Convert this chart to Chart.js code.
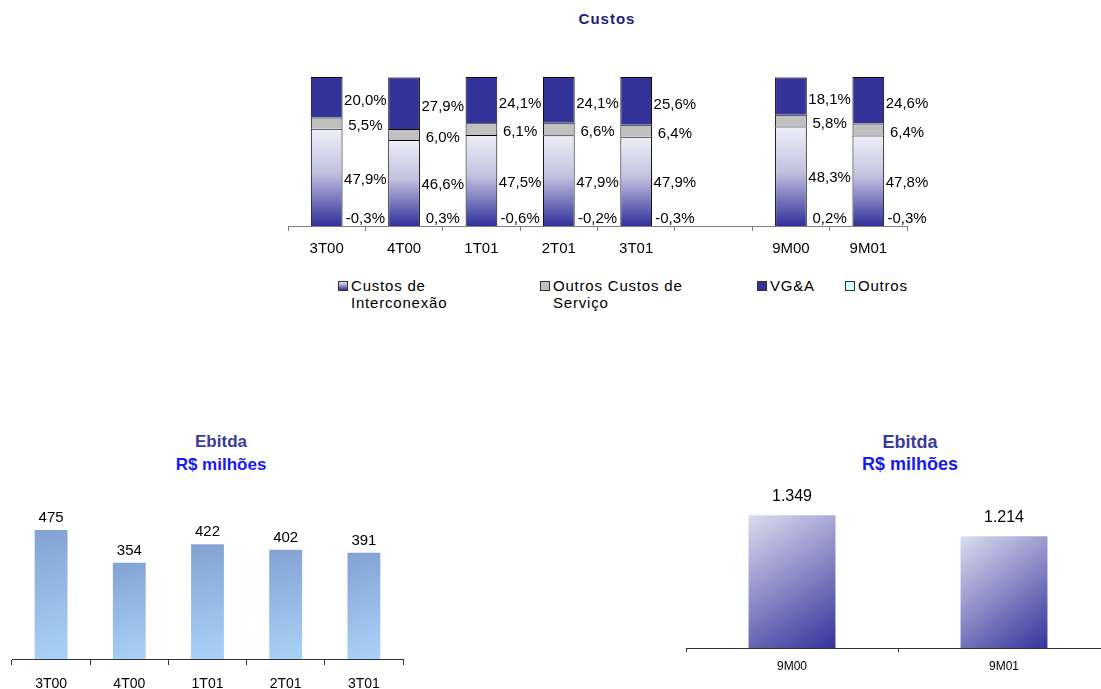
<!DOCTYPE html>
<html lang="pt-BR">
<head>
<meta charset="utf-8">
<title>Custos e Ebitda</title>
<script src="https://cdn.jsdelivr.net/npm/chart.js@4.4.1/dist/chart.umd.min.js"></script>
<style>
  body { margin: 0; width: 1101px; height: 689px; position: relative; overflow: hidden; background: #fff; font-family: "Liberation Sans", Arial, sans-serif; }
  .caixa { position: absolute; }
  .titulo { position: absolute; font-weight: bold; text-align: center; white-space: nowrap; transform: translateX(-50%); }
  .item-legenda { position: absolute; font-size: 15px; line-height: 17px; letter-spacing: 0.8px; color: #000; }
  .item-legenda .cor { position: absolute; left: -13px; top: 4px; width: 8px; height: 8px; border: 1px solid #333; }
</style>
</head>
<body>

<div class="titulo" style="left:607px; top:10px; font-size:15px; line-height:18px; color:#1c1c80; letter-spacing:1px;">Custos</div>
<div class="caixa" style="left:0; top:0; width:1101px; height:262px;"><canvas id="graficoCustos"></canvas></div>
<div id="legendaCustos"></div>

<div class="titulo" style="left:221px; top:430px; font-size:17px; line-height:23px; color:#3b3b98;">Ebitda<br><span style="color:#1a1af0">R$ milhões</span></div>
<div class="caixa" style="left:0; top:480px; width:420px; height:209px;"><canvas id="graficoEbitdaTrimestre"></canvas></div>

<div class="titulo" style="left:910px; top:431px; font-size:18px; line-height:22px; color:#3b3b98;">Ebitda<br><span style="color:#1a1af0">R$ milhões</span></div>
<div class="caixa" style="left:680px; top:470px; width:430px; height:219px;"><canvas id="graficoEbitdaAcumulado"></canvas></div>

<script>
// === DADOS ===
const categoriasCustos = ['3T00', '4T00', '1T01', '2T01', '3T01', '', '9M00', '9M01'];
const custosInterconexao = [47.9, 46.6, 47.5, 47.9, 47.9, null, 48.3, 47.8];
const outrosCustosServico = [5.5, 6.0, 6.1, 6.6, 6.4, null, 5.8, 6.4];
const vgea = [20.0, 27.9, 24.1, 24.1, 25.6, null, 18.1, 24.6];
const outros = [-0.3, 0.3, -0.6, -0.2, -0.3, null, 0.2, -0.3];

const categoriasEbitda = ['3T00', '4T00', '1T01', '2T01', '3T01'];
const ebitdaTrimestral = [475, 354, 422, 402, 391];

const categoriasEbitdaAcumulado = ['9M00', '9M01'];
const ebitdaAcumulado = [1349, 1214];

const seriesCustos = [
  { nome: 'Custos de Interconexão', valores: custosInterconexao },
  { nome: 'Outros Custos de Serviço', valores: outrosCustosServico },
  { nome: 'VG&A', valores: vgea },
  { nome: 'Outros', valores: outros }
];

const FONTE = '"Liberation Sans", Arial, sans-serif';

document.addEventListener('DOMContentLoaded', () => {
  gerarGraficoCustos();
  montarLegendaCustos();
  gerarGraficoEbitdaTrimestre();
  gerarGraficoEbitdaAcumulado();
});

function formatarPct(v) {
  return v.toFixed(1).replace('.', ',') + '%';
}

function formatarMilhar(v) {
  return String(v).replace(/\B(?=(\d{3})+(?!\d))/g, '.');
}

// colunas 100% empilhadas: cada valor vira a sua fatia da soma positiva da coluna
function totalPositivo(i) {
  return seriesCustos.reduce((acc, s) => acc + (s.valores[i] > 0 ? s.valores[i] : 0), 0);
}

function paraCemPorCento(valores) {
  return valores.map((v, i) => v === null ? null : v / totalPositivo(i) * 100);
}

function gradienteInterconexao(contexto) {
  const grafico = contexto.chart;
  if (!grafico.chartArea || contexto.raw === null || contexto.raw === undefined) return '#9999cc';
  const y = grafico.scales.y;
  const topo = y.getPixelForValue(contexto.raw);
  const base = y.getPixelForValue(0);
  const g = grafico.ctx.createLinearGradient(0, topo, 0, base);
  g.addColorStop(0, '#eeeef8');
  g.addColorStop(0.45, '#c2c2e0');
  g.addColorStop(1, '#30309a');
  return g;
}

function gradienteDiagonal(corInicio, corFim, larguraBarra) {
  return (contexto) => {
    const grafico = contexto.chart;
    if (!grafico.chartArea || contexto.raw === null || contexto.raw === undefined) return corFim;
    const x = grafico.scales.x;
    const y = grafico.scales.y;
    const centro = x.getPixelForValue(contexto.dataIndex);
    const meia = (x.width / grafico.data.labels.length) * larguraBarra / 2;
    const topo = y.getPixelForValue(contexto.raw);
    const base = grafico.chartArea.bottom;
    const g = grafico.ctx.createLinearGradient(centro - meia, topo, centro + meia, base);
    g.addColorStop(0, corInicio);
    g.addColorStop(1, corFim);
    return g;
  };
}

// === GRAFICO CUSTOS ===
const coresCustos = [gradienteInterconexao, '#c0c0c0', '#333399', '#ccffff'];
const ajusteRotulo = [2, 3, 4, 0];

const rotulosCustos = {
  id: 'rotulosCustos',
  afterDatasetsDraw(grafico) {
    const ctx = grafico.ctx;
    const x = grafico.scales.x;
    const meioCategoria = (x.getPixelForValue(1) - x.getPixelForValue(0)) / 2;
    const base = grafico.chartArea.bottom;
    ctx.save();
    ctx.font = '15px ' + FONTE;
    ctx.fillStyle = '#000';
    ctx.textAlign = 'center';
    ctx.textBaseline = 'middle';
    seriesCustos.forEach((serie, d) => {
      const meta = grafico.getDatasetMeta(d);
      meta.data.forEach((barra, i) => {
        const v = serie.valores[i];
        if (v === null) return;
        const py = d === 3 ? base - 7 : (barra.y + barra.base) / 2 + ajusteRotulo[d];
        ctx.fillText(formatarPct(v), barra.x + meioCategoria, py);
      });
    });
    ctx.restore();
  }
};

function gerarGraficoCustos() {
  const ctx = document.getElementById('graficoCustos').getContext('2d');
  new Chart(ctx, {
    type: 'bar',
    data: {
      labels: categoriasCustos,
      datasets: seriesCustos.map((s, i) => ({
        label: s.nome,
        data: paraCemPorCento(s.valores),
        backgroundColor: coresCustos[i],
        borderColor: '#000',
        borderWidth: 1,
        barPercentage: 0.41,
        categoryPercentage: 1,
        clip: { left: 5, top: 5, right: 5, bottom: 0 }
      }))
    },
    options: {
      responsive: true,
      maintainAspectRatio: false,
      animation: false,
      layout: { padding: { left: 288, right: 194, top: 77, bottom: 0 } },
      plugins: { legend: { display: false }, tooltip: { enabled: false }, title: { display: false } },
      scales: {
        x: {
          stacked: true,
          afterFit: (escala) => { escala.height = 36; },
          grid: { display: true, drawOnChartArea: false, drawTicks: true, tickLength: 5, offset: true, color: '#808080' },
          border: { display: true, color: '#808080' },
          ticks: { color: '#000', font: { family: FONTE, size: 15 }, padding: 9, maxRotation: 0 }
        },
        y: { stacked: true, display: false, min: 0, max: 100 }
      }
    },
    plugins: [rotulosCustos]
  });
}

const posLegenda = [
  { x: 351, largura: 110 },
  { x: 553, largura: 140 },
  { x: 770, largura: 70 },
  { x: 858, largura: 70 }
];
const caixasLegenda = ['linear-gradient(#e6e6f4, #333399)', '#c0c0c0', '#333399', '#ccffff'];

function montarLegendaCustos() {
  const container = document.getElementById('legendaCustos');
  seriesCustos.forEach((s, i) => {
    const item = document.createElement('div');
    item.className = 'item-legenda';
    item.style.left = posLegenda[i].x + 'px';
    item.style.top = '277px';
    item.style.width = posLegenda[i].largura + 'px';
    item.innerHTML = `<span class="cor" style="background:${caixasLegenda[i]}"></span>`;
    item.appendChild(document.createTextNode(s.nome));
    container.appendChild(item);
  });
}

// === GRAFICOS EBITDA ===
const rotulosEbitda = {
  id: 'rotulosEbitda',
  afterDatasetsDraw(grafico, args, opcoes) {
    const ctx = grafico.ctx;
    const valores = grafico.data.datasets[0].data;
    ctx.save();
    ctx.font = opcoes.tamanho + 'px ' + FONTE;
    ctx.fillStyle = '#000';
    ctx.textAlign = 'center';
    ctx.textBaseline = 'middle';
    grafico.getDatasetMeta(0).data.forEach((barra, i) => {
      ctx.fillText(formatarMilhar(valores[i]), barra.x, barra.y - opcoes.distancia);
    });
    ctx.restore();
  }
};

function gerarGraficoEbitdaTrimestre() {
  const ctx = document.getElementById('graficoEbitdaTrimestre').getContext('2d');
  new Chart(ctx, {
    type: 'bar',
    data: {
      labels: categoriasEbitda,
      datasets: [{
        label: 'Ebitda',
        data: ebitdaTrimestral,
        backgroundColor: gradienteDiagonal('#82a2d2', '#aad2f8', 0.42),
        borderWidth: 0,
        barPercentage: 0.42,
        categoryPercentage: 1
      }]
    },
    options: {
      responsive: true,
      maintainAspectRatio: false,
      animation: false,
      layout: { padding: { left: 12, right: 17, top: 16, bottom: 0 } },
      plugins: {
        legend: { display: false },
        tooltip: { enabled: false },
        rotulosEbitda: { tamanho: 15, distancia: 12 }
      },
      scales: {
        x: {
          afterFit: (escala) => { escala.height = 30; },
          grid: { display: true, drawOnChartArea: false, drawTicks: true, tickLength: 6, offset: true, color: '#333' },
          border: { display: true, color: '#333' },
          ticks: { color: '#000', font: { family: FONTE, size: 14 }, padding: 11, maxRotation: 0 }
        },
        y: { display: false, min: 0, max: 600 }
      }
    },
    plugins: [rotulosEbitda]
  });
}

function gerarGraficoEbitdaAcumulado() {
  const ctx = document.getElementById('graficoEbitdaAcumulado').getContext('2d');
  new Chart(ctx, {
    type: 'bar',
    data: {
      labels: categoriasEbitdaAcumulado,
      datasets: [{
        label: 'Ebitda',
        data: ebitdaAcumulado,
        backgroundColor: gradienteDiagonal('#dcdcef', '#34349c', 0.41),
        borderWidth: 0,
        barPercentage: 0.41,
        categoryPercentage: 1
      }]
    },
    options: {
      responsive: true,
      maintainAspectRatio: false,
      animation: false,
      layout: { padding: { left: 6, right: 0, top: 6, bottom: 0 } },
      plugins: {
        legend: { display: false },
        tooltip: { enabled: false },
        rotulosEbitda: { tamanho: 16, distancia: 19 }
      },
      scales: {
        x: {
          afterFit: (escala) => { escala.height = 41; },
          grid: { display: true, drawOnChartArea: false, drawTicks: true, tickLength: 4, offset: true, color: '#333' },
          border: { display: true, color: '#333' },
          ticks: { color: '#000', font: { family: FONTE, size: 12 }, padding: 7, maxRotation: 0 }
        },
        y: { display: false, min: 500, max: 1600 }
      }
    },
    plugins: [rotulosEbitda]
  });
}
</script>
</body>
</html>
